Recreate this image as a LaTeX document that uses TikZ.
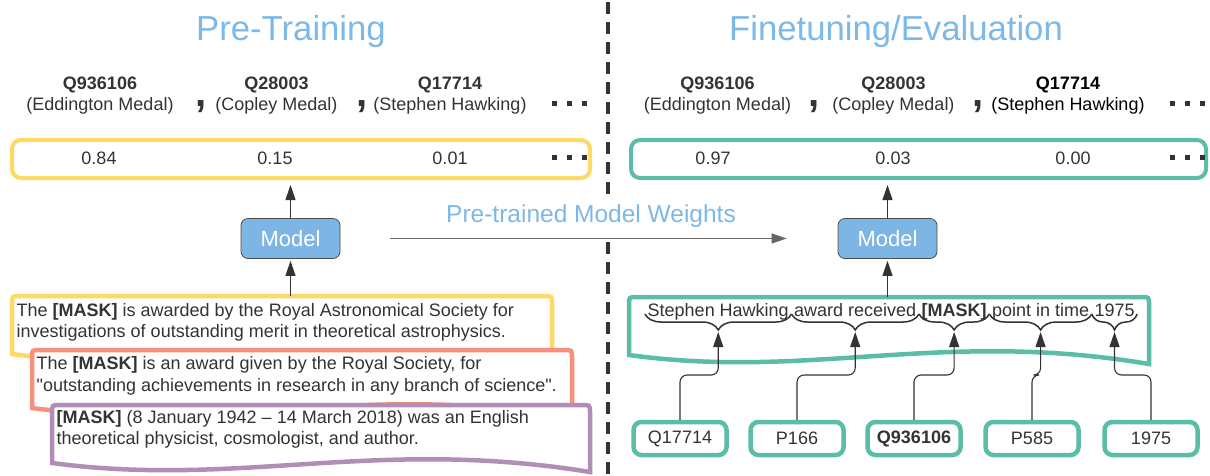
\documentclass[tikz,border=0pt]{standalone}
\usepackage{fontspec}
\setmainfont{Liberation Sans}
\usetikzlibrary{arrows.meta,decorations.pathreplacing,calc}

\definecolor{txt}{HTML}{333333}
\definecolor{ttl}{HTML}{7DB9E8}
\definecolor{gold}{HTML}{FFD966}
\definecolor{salmon}{HTML}{F8907E}
\definecolor{mauve}{HTML}{B18EB5}
\definecolor{tealc}{HTML}{5BBDA7}
\definecolor{modelblue}{HTML}{7DB6E4}

% document outline with rounded top corners and a wavy bottom edge
% #1 name of top-left coordinate, #2 colour, #3 left x, #4 top y, #5 right x
\newcommand\docshape[5]{%
  \coordinate (#1) at (#3,#4);
  \draw[line width=4.5pt, draw=#2, fill=white]
    (#3,#4+58) -- (#3,#4+8) .. controls (#3,#4) .. (#3+8,#4)
    -- (#5-8,#4) .. controls (#5,#4) .. (#5,#4+8)
    -- (#5,#4+67)
    .. controls ({#3+0.6*(#5-#3)},{#4+32}) and ({#3+0.35*(#5-#3)},{#4+83}) .. (#3,#4+58)
    -- cycle;
}

\begin{document}
\begin{tikzpicture}[x=1pt,y=-1pt,
  body/.style={font=\fontsize{18}{21.5}\selectfont, text=txt, inner sep=0pt},
  lbl/.style={body, anchor=base},
  qid/.style={lbl, font=\fontsize{18}{21.5}\selectfont\bfseries},
  bigcomma/.style={font=\fontsize{40}{40}\selectfont\bfseries, text=txt, inner sep=0pt, anchor=base},
  title/.style={font=\fontsize{34.7}{36}\selectfont, text=ttl, anchor=base, inner sep=0pt},
  scorebox/.style={draw=#1, line width=4pt, rounded corners=9pt, minimum height=38pt, inner sep=0pt},
  modelbox/.style={draw=black!70, line width=0.8pt, fill=modelblue, rounded corners=7pt,
    minimum width=99pt, minimum height=40pt, inner sep=0pt, text=white, font=\fontsize{22}{22}\selectfont},
  arr/.style={draw=txt, line width=1.1pt, -{Triangle[length=15pt,width=10pt]}},
  idbox/.style={draw=tealc, line width=4.5pt, rounded corners=8pt, minimum width=93pt,
    minimum height=33pt, inner sep=0pt, font=\fontsize{18}{21.5}\selectfont, text=txt},
  doctext/.style={body, align=left, anchor=base west},
  word/.style={body, inner xsep=2.5pt, anchor=base west},
  brc/.style={decorate, decoration={brace, mirror, amplitude=16pt}, draw=txt, line width=1.5pt},
  dots/.style={fill=txt}
]
\useasboundingbox (0,0) rectangle (1210,475);

% divider between the two halves
\draw[line width=4pt, draw=txt, dash pattern=on 12pt off 8pt] (608,2) -- (608,475);

% titles
\node[title] (tpre) at (291,40) {Pre-Training};
\node[title] (tfin) at (896,40) {Finetuning/Evaluation};

% ---------------- left: pre-training ----------------
\node[qid] (lq1) at (100,89) {Q936106};
\node[lbl] (ln1) at (100,110) {(Eddington Medal)};
\node[bigcomma] (lc1) at (201,106) {,};
\node[qid] (lq2) at (276.5,89) {Q28003};
\node[lbl] (ln2) at (276.5,110) {(Copley Medal)};
\node[bigcomma] (lc2) at (362,106) {,};
\node[qid] (lq3) at (450,89) {Q17714};
\node[lbl] (ln3) at (450,110) {(Stephen Hawking)};
\foreach \i in {0,1,2} \fill[dots] (552+15*\i,101) rectangle ++(5,5);

\node[scorebox=gold, minimum width=578pt] (scoreL) at (301,159) {};
\node[lbl] (ls1) at (99,164.5) {0.84};
\node[lbl] (ls2) at (275,164.5) {0.15};
\node[lbl] (ls3) at (450,164.5) {0.01};
\foreach \i in {0,1,2} \fill[dots] (552+15*\i,155) rectangle ++(5,5);

\node[modelbox] (modelL) at (290.5,238.5) {Model};
\draw[arr, shorten >=5pt] (modelL.north) -- (modelL.north |- scoreL.south);

% the text nodes are anchored on the baseline of their last line
\docshape{ydoc}{gold}{12}{296}{552}
\node[doctext] (ytext) at (16.5,337.5) {The \textbf{[MASK]} is awarded by the Royal Astronomical Society for\\investigations of outstanding merit in theoretical astrophysics.};
\docshape{rdoc}{salmon}{32}{350}{572}
\node[doctext] (rtext) at (36.5,391) {The \textbf{[MASK]} is an award given by the Royal Society, for\\\textquotedbl outstanding achievements in research in any branch of science\textquotedbl.};
\docshape{pdoc}{mauve}{52}{405}{590}
\node[doctext] (ptext) at (56.5,444.5) {\textbf{[MASK]} (8 January 1942 – 14 March 2018) was an English\\theoretical physicist, cosmologist, and author.};

\draw[arr, shorten >=2pt] (modelL.south |- ydoc) -- (modelL.south);

% ---------------- middle: weight transfer ----------------
\node[modelbox] (modelR) at (887.5,238.5) {Model};
\node[font=\fontsize{24.5}{25}\selectfont, text=ttl, fill=white, inner xsep=4pt, inner ysep=8pt, anchor=base]
  (ptw) at (591,222) {Pre-trained Model Weights};
\draw[arr, draw=black!60] ($(modelL.east)+(50,0)$) -- ($(modelR.west)+(-51,0)$);

% ---------------- right: finetuning / evaluation ----------------
\node[qid] (rq1) at (717.5,89) {Q936106};
\node[lbl] (rn1) at (717.5,110) {(Eddington Medal)};
\node[bigcomma] (rc1) at (814,106) {,};
\node[qid] (rq2) at (893.5,89) {Q28003};
\node[lbl] (rn2) at (893.5,110) {(Copley Medal)};
\node[bigcomma] (rc2) at (978,106) {,};
\node[qid, text=black] (rq3) at (1068,89) {Q17714};
\node[lbl, text=black] (rn3) at (1068,110) {(Stephen Hawking)};
\foreach \i in {0,1,2} \fill[dots] (1170+15*\i,101) rectangle ++(5,5);

\node[scorebox=tealc, minimum width=575pt] (scoreR) at (918.5,159) {};
\node[lbl] (rs1) at (713,164.5) {0.97};
\node[lbl] (rs2) at (893,164.5) {0.03};
\node[lbl] (rs3) at (1073,164.5) {0.00};
\foreach \i in {0,1,2} \fill[dots] (1170+15*\i,155) rectangle ++(5,5);

\draw[arr, shorten >=5pt] (modelR.north) -- (modelR.north |- scoreR.south);

\docshape{tdoc}{tealc}{629}{297}{1149}
\draw[arr, shorten >=2pt] (modelR.south |- tdoc) -- (modelR.south);

% linearised triple with one brace per token
\node[word] (w1) at (645,316) {Stephen Hawking};
\node[word] (w2) at (w1.base east) {award received};
\node[word] (w3) at (w2.base east) {\textbf{[MASK]}};
\node[word] (w4) at (w3.base east) {point in time};
\node[word] (w5) at (w4.base east) {1975};
\foreach \w in {w1,w2,w3,w4,w5} {
  \draw[brc] ($(\w.base west)+(0,-2)$) -- ($(\w.base east)+(0,-2)$);
  \coordinate (\w-tip) at ($(\w.base)+(0,16)$);
}

% entity / relation ids
\node[idbox] (n1) at (680,438.5) {Q17714};
\node[idbox] (n2) at (797,438.5) {P166};
\node[idbox] (n3) at (914,438.5) {\textbf{Q936106}};
\node[idbox] (n4) at (1032,438.5) {P585};
\node[idbox] (n5) at (1151,438.5) {1975};

\foreach \n/\w in {n1/w1,n2/w2,n3/w3,n4/w4,n5/w5}
  \draw[arr, rounded corners=7pt] (\n.north) |- ($(\w-tip)+(0,43)$) -- (\w-tip);

\end{tikzpicture}
\end{document}
